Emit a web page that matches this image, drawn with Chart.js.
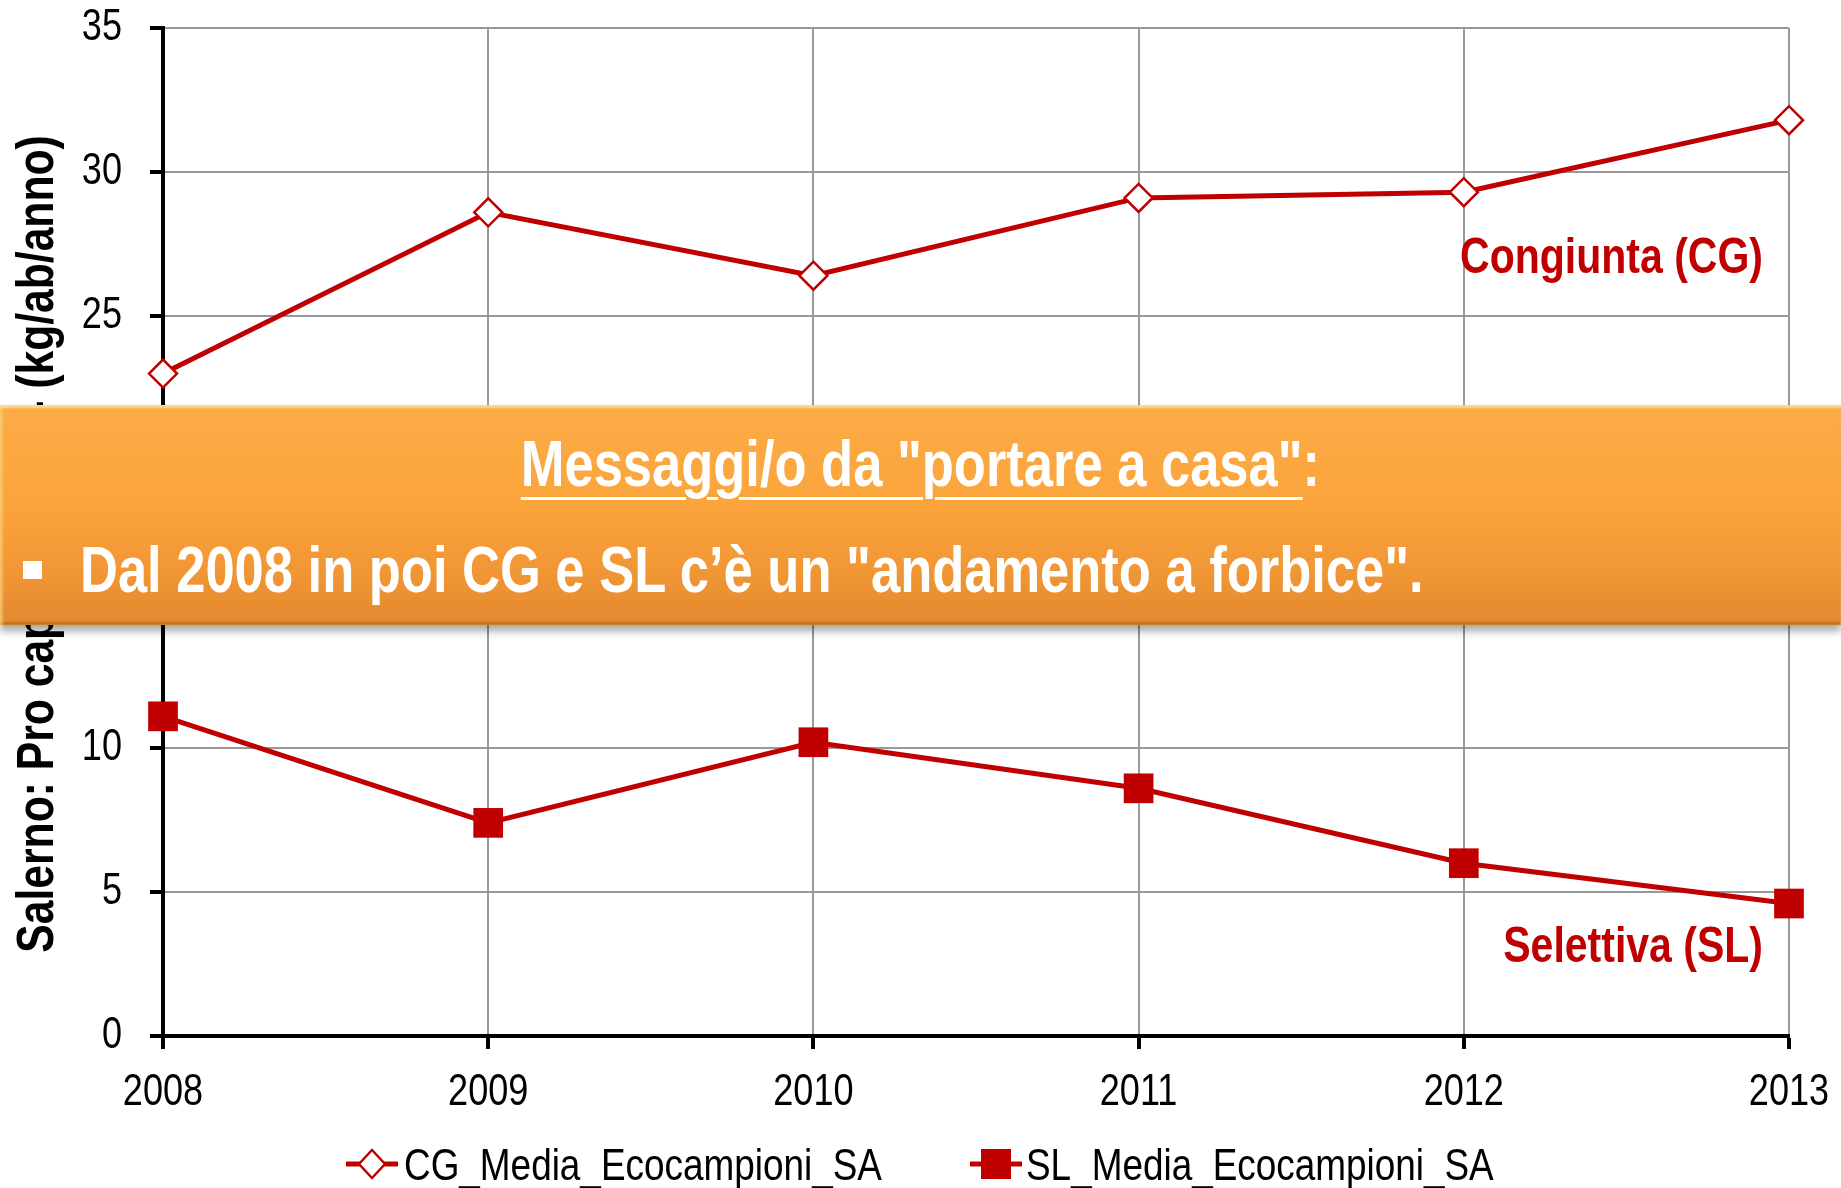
<!DOCTYPE html>
<html>
<head>
<meta charset="utf-8">
<script src="https://cdn.jsdelivr.net/npm/chart.js@4/dist/chart.umd.min.js"></script>
<style>
  html, body { margin: 0; padding: 0; background: #ffffff; }
  #wrap { position: relative; width: 1841px; height: 1188px; overflow: hidden; }
  #chart { position: absolute; left: 0; top: 0; }
  .box {
    position: absolute; left: 0; top: 405px; width: 1841px; height: 220px;
    background: linear-gradient(to bottom, #fcac47 0%, #fba43c 45%, #ef9434 80%, #e2892f 100%);
    box-shadow: 0 6px 8px rgba(0,0,0,0.35), inset 0 3px 2px rgba(255,222,140,0.9),
                inset 3px 0 2px rgba(255,210,120,0.6), inset 0 -3px 2px rgba(170,95,25,0.6);
    font-family: 'Liberation Sans', Arial, sans-serif;
    font-weight: bold; color: #ffffff; font-size: 64px; line-height: 64px;
  }
  .box .head { position: absolute; left: 0; width: 100%; top: 27px; text-align: center; white-space: nowrap; }
  .box .head .txt { display: inline-block; transform: scaleX(0.82); transform-origin: center; }
  .box .head u { text-decoration-thickness: 3px; text-underline-offset: 11px; }
  .box .bullet { position: absolute; left: 23px; top: 156px; width: 19px; height: 18px; background: #ffffff; }
  .box .line { position: absolute; left: 80px; top: 133px; white-space: nowrap; transform: scaleX(0.82); transform-origin: left; }
</style>
</head>
<body>
<div id="wrap">
  <canvas id="chart" width="1841" height="1188"></canvas>
  <div class="box">
    <div class="head"><span class="txt"><u>Messaggi/o da "portare a casa"</u>:</span></div>
    <div class="bullet"></div>
    <div class="line">Dal 2008 in poi CG e SL c’è un "andamento a forbice".</div>
  </div>
</div>
<script>
// dati
const years = ['2008', '2009', '2010', '2011', '2012', '2013'];
const cgValues = [23.0, 28.6, 26.4, 29.1, 29.3, 31.8];
const slValues = [11.1, 7.4, 10.2, 8.6, 6.0, 4.6];
const seriesNames = ['CG_Media_Ecocampioni_SA', 'SL_Media_Ecocampioni_SA'];
const yTicks = [0, 5, 10, 15, 20, 25, 30, 35];
const yTitle = 'Salerno: Pro capite medio - (kg/ab/anno)';
const labelCG = 'Congiunta (CG)';
const labelSL = 'Selettiva (SL)';

const RED = '#c00000';
const FONT = "'Liberation Sans', Arial, sans-serif";
const NARROW = 0.82; // niente Arial Narrow: si stringe il testo in orizzontale

function narrowText(ctx, text, x, y, font, align, baseline) {
    ctx.font = font;
    ctx.textAlign = align;
    ctx.textBaseline = baseline;
    const w = ctx.measureText(text).width;
    ctx.fillText(text, x, y, w * NARROW);
}

// etichette assi, titolo asse Y, etichette delle serie e legenda
const extrasPlugin = {
    id: 'extras',
    afterDraw(chart) {
        const ctx = chart.ctx;
        const x = chart.scales.x;
        const y = chart.scales.y;

        ctx.save();
        ctx.fillStyle = '#000000';
        x.ticks.forEach((t, i) => {
            narrowText(ctx, x.getLabelForValue(t.value), x.getPixelForTick(i), 1105,
                '44px ' + FONT, 'center', 'alphabetic');
        });
        y.ticks.forEach(t => {
            narrowText(ctx, String(t.value), 122, y.getPixelForValue(t.value),
                '44px ' + FONT, 'right', 'middle');
        });

        ctx.translate(53, (y.top + y.bottom) / 2 + 12);
        ctx.rotate(-Math.PI / 2);
        narrowText(ctx, yTitle, 0, 0, 'bold 52px ' + FONT, 'center', 'alphabetic');
        ctx.restore();

        ctx.save();
        ctx.fillStyle = RED;
        const right = x.getPixelForValue(5) - 26;
        narrowText(ctx, labelCG, right, y.getPixelForValue(26.5), 'bold 50px ' + FONT, 'right', 'alphabetic');
        narrowText(ctx, labelSL, right, y.getPixelForValue(2.57), 'bold 50px ' + FONT, 'right', 'alphabetic');
        ctx.restore();

        // legenda
        const ly = 1164;
        const items = [
            { cx: 372, half: 26, style: 'diamond', textX: 404 },
            { cx: 996, half: 26, style: 'square', textX: 1026 }
        ];
        ctx.save();
        items.forEach((it, i) => {
            ctx.strokeStyle = RED;
            ctx.lineWidth = 5;
            ctx.beginPath();
            ctx.moveTo(it.cx - it.half, ly);
            ctx.lineTo(it.cx + it.half, ly);
            ctx.stroke();
            if (it.style === 'diamond') {
                ctx.beginPath();
                ctx.moveTo(it.cx - 13, ly);
                ctx.lineTo(it.cx, ly - 14);
                ctx.lineTo(it.cx + 13, ly);
                ctx.lineTo(it.cx, ly + 14);
                ctx.closePath();
                ctx.fillStyle = '#ffffff';
                ctx.fill();
                ctx.lineWidth = 2.5;
                ctx.stroke();
            } else {
                ctx.fillStyle = RED;
                ctx.fillRect(it.cx - 15, ly - 15, 30, 30);
            }
            ctx.fillStyle = '#000000';
            narrowText(ctx, seriesNames[i], it.textX, 1180, '45px ' + FONT, 'left', 'alphabetic');
        });
        ctx.restore();
    }
};

const ctx = document.getElementById('chart').getContext('2d');
new Chart(ctx, {
    type: 'line',
    data: {
        labels: years,
        datasets: [{
            label: seriesNames[0],
            data: cgValues,
            borderColor: RED,
            borderWidth: 5,
            tension: 0,
            pointStyle: 'rectRot',
            pointRadius: 14,
            pointBorderWidth: 2.5,
            pointBackgroundColor: '#ffffff',
            pointBorderColor: RED
        }, {
            label: seriesNames[1],
            data: slValues,
            borderColor: RED,
            borderWidth: 5,
            tension: 0,
            pointStyle: 'rect',
            pointRadius: 21,
            pointBorderWidth: 0,
            pointBackgroundColor: RED,
            pointBorderColor: RED
        }]
    },
    options: {
        responsive: false,
        animation: false,
        layout: {
            padding: { top: 28, right: 52, bottom: 0, left: 0 }
        },
        plugins: {
            legend: { display: false },
            tooltip: { enabled: false }
        },
        scales: {
            x: {
                offset: false,
                afterFit: function(scale) {
                    scale.height = 152;
                    scale.paddingLeft = 0;
                    scale.paddingRight = 0;
                },
                ticks: { display: false },
                grid: {
                    color: '#999999',
                    lineWidth: 2,
                    tickColor: '#000000',
                    tickWidth: 4,
                    tickLength: 13
                },
                border: { color: '#000000', width: 4 }
            },
            y: {
                min: 0,
                max: 35,
                afterFit: function(scale) {
                    scale.width = 163;
                    scale.paddingTop = 0;
                    scale.paddingBottom = 0;
                },
                afterBuildTicks: function(scale) {
                    scale.ticks = yTicks.map(v => ({ value: v }));
                },
                ticks: { display: false },
                grid: {
                    color: '#999999',
                    lineWidth: 2,
                    tickColor: '#000000',
                    tickWidth: 4,
                    tickLength: 13
                },
                border: { color: '#000000', width: 4 }
            }
        }
    },
    plugins: [extrasPlugin]
});
</script>
</body>
</html>
